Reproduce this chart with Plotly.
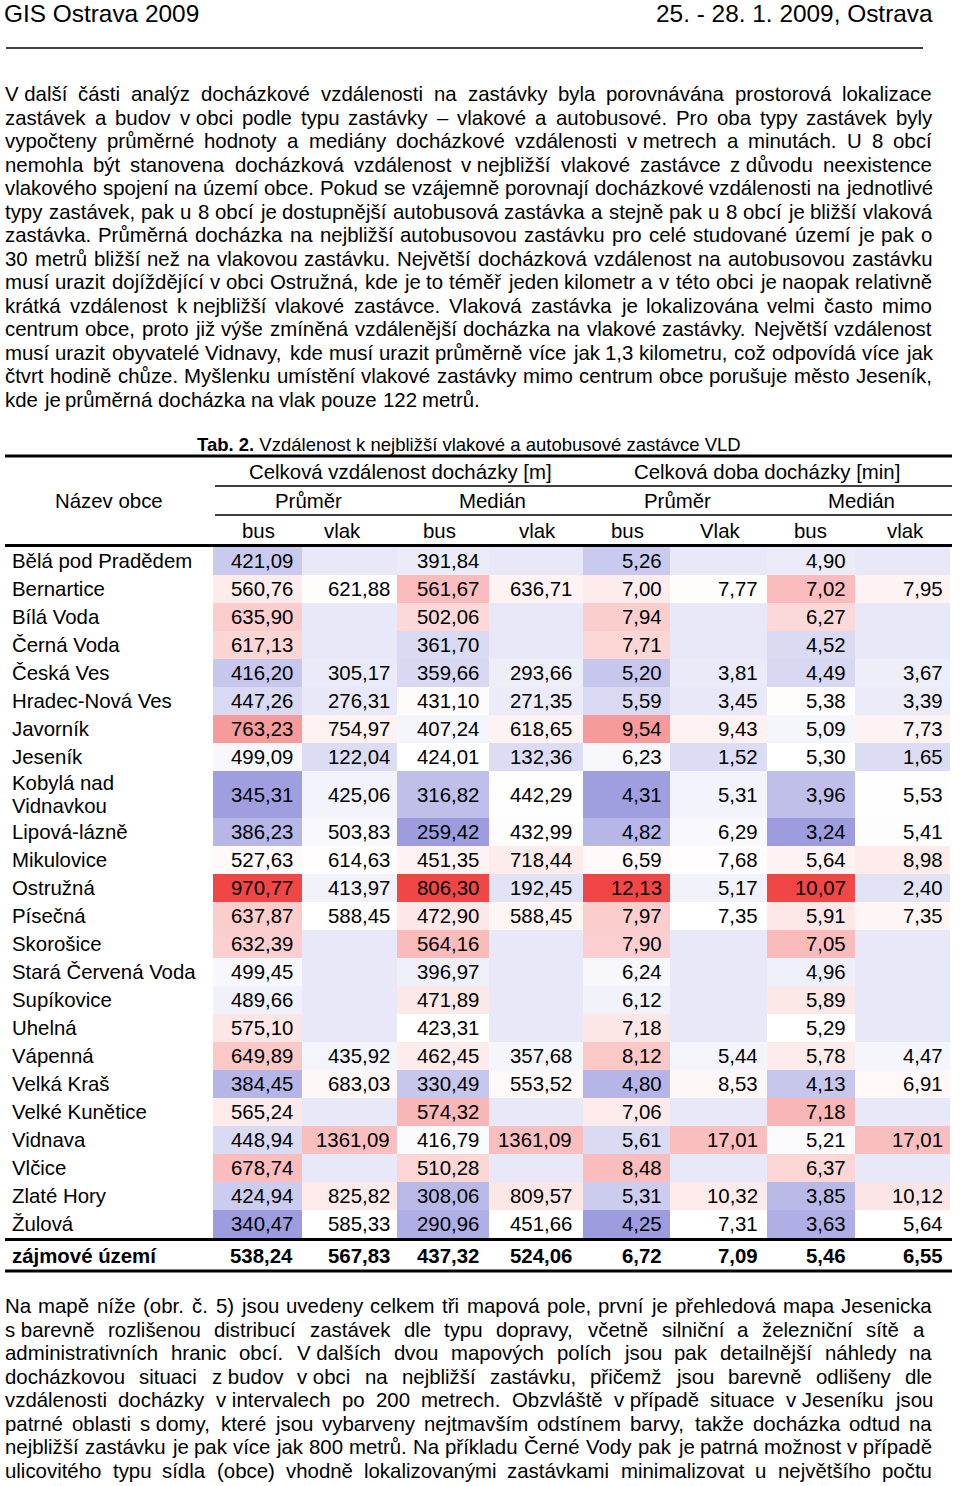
import unicodedata
import plotly.graph_objects as go

FONT = "Liberation Sans, Arial, Helvetica, sans-serif"
FS = 20.4

# ---------------- data ----------------
header_left = "GIS Ostrava 2009"
header_right = "25. - 28. 1. 2009, Ostrava"
caption = "<b>Tab. 2.</b> Vzdálenost k nejbližší vlakové a autobusové zastávce VLD"

group_labels = ["Celková vzdálenost docházky [m]", "Celková doba docházky [min]"]
stat_labels = ["Průměr", "Medián", "Průměr", "Medián"]
type_labels = ["bus", "vlak", "bus", "vlak", "bus", "Vlak", "bus", "vlak"]
name_header = "Název obce"

names = ["Bělá pod Pradědem", "Bernartice", "Bílá Voda", "Černá Voda", "Česká Ves",
         "Hradec-Nová Ves", "Javorník", "Jeseník", "Kobylá nad|Vidnavkou", "Lipová-lázně",
         "Mikulovice", "Ostružná", "Písečná", "Skorošice", "Stará Červená Voda",
         "Supíkovice", "Uhelná", "Vápenná", "Velká Kraš", "Velké Kunětice", "Vidnava",
         "Vlčice", "Zlaté Hory", "Žulová"]

dist_mean_bus = [421.09, 560.76, 635.90, 617.13, 416.20, 447.26, 763.23, 499.09, 345.31, 386.23,
                 527.63, 970.77, 637.87, 632.39, 499.45, 489.66, 575.10, 649.89, 384.45, 565.24,
                 448.94, 678.74, 424.94, 340.47]
dist_mean_vlak = [None, 621.88, None, None, 305.17, 276.31, 754.97, 122.04, 425.06, 503.83,
                  614.63, 413.97, 588.45, None, None, None, None, 435.92, 683.03, None,
                  1361.09, None, 825.82, 585.33]
dist_med_bus = [391.84, 561.67, 502.06, 361.70, 359.66, 431.10, 407.24, 424.01, 316.82, 259.42,
                451.35, 806.30, 472.90, 564.16, 396.97, 471.89, 423.31, 462.45, 330.49, 574.32,
                416.79, 510.28, 308.06, 290.96]
dist_med_vlak = [None, 636.71, None, None, 293.66, 271.35, 618.65, 132.36, 442.29, 432.99,
                 718.44, 192.45, 588.45, None, None, None, None, 357.68, 553.52, None,
                 1361.09, None, 809.57, 451.66]
time_mean_bus = [5.26, 7.00, 7.94, 7.71, 5.20, 5.59, 9.54, 6.23, 4.31, 4.82, 6.59, 12.13, 7.97,
                 7.90, 6.24, 6.12, 7.18, 8.12, 4.80, 7.06, 5.61, 8.48, 5.31, 4.25]
time_mean_vlak = [None, 7.77, None, None, 3.81, 3.45, 9.43, 1.52, 5.31, 6.29, 7.68, 5.17, 7.35,
                  None, None, None, None, 5.44, 8.53, None, 17.01, None, 10.32, 7.31]
time_med_bus = [4.90, 7.02, 6.27, 4.52, 4.49, 5.38, 5.09, 5.30, 3.96, 3.24, 5.64, 10.07, 5.91,
                7.05, 4.96, 5.89, 5.29, 5.78, 4.13, 7.18, 5.21, 6.37, 3.85, 3.63]
time_med_vlak = [None, 7.95, None, None, 3.67, 3.39, 7.73, 1.65, 5.53, 5.41, 8.98, 2.40, 7.35,
                 None, None, None, None, 4.47, 6.91, None, 17.01, None, 10.12, 5.64]

total_label = "zájmové území"
totals = [538.24, 567.83, 437.32, 524.06, 6.72, 7.09, 5.46, 6.55]

para1 = [
    "V~další části analýz docházkové vzdálenosti na zastávky byla porovnávána prostorová lokalizace",
    "zastávek a budov v~obci podle typu zastávky – vlakové a autobusové. Pro oba typy zastávek byly",
    "vypočteny průměrné hodnoty a mediány docházkové vzdálenosti v~metrech a minutách. U 8 obcí",
    "nemohla být stanovena docházková vzdálenost v~nejbližší vlakové zastávce z~důvodu neexistence",
    "vlakového spojení na území obce. Pokud se vzájemně porovnají docházkové vzdálenosti na jednotlivé",
    "typy zastávek, pak u 8 obcí je dostupnější autobusová zastávka a stejně pak u 8 obcí je bližší vlaková",
    "zastávka. Průměrná docházka na nejbližší autobusovou zastávku pro celé studované území je pak o",
    "30 metrů bližší než na vlakovou zastávku. Největší docházková vzdálenost na autobusovou zastávku",
    "musí urazit dojíždějící v obci Ostružná, kde je to téměř jeden kilometr a v této obci je naopak relativně",
    "krátká vzdálenost k~nejbližší vlakové zastávce. Vlaková zastávka je lokalizována velmi často mimo",
    "centrum obce, proto již výše zmíněná vzdálenější docházka na vlakové zastávky. Největší vzdálenost",
    "musí urazit obyvatelé Vidnavy, kde musí urazit průměrně více jak 1,3 kilometru, což odpovídá více jak",
    "čtvrt hodině chůze. Myšlenku umístění vlakové zastávky mimo centrum obce porušuje město Jeseník,",
    "kde je průměrná docházka na vlak pouze 122 metrů.",
]
para2 = [
    "Na mapě níže (obr. č. 5) jsou uvedeny celkem tři mapová pole, první je přehledová mapa Jesenicka",
    "s~barevně rozlišenou distribucí zastávek dle typu dopravy, včetně silniční a železniční sítě a",
    "administrativních hranic obcí. V~dalších dvou mapových polích jsou pak detailnější náhledy na",
    "docházkovou situaci z~budov v~obci na nejbližší zastávku, přičemž jsou barevně odlišeny dle",
    "vzdálenosti docházky v~intervalech po 200 metrech. Obzvláště v~případě situace v~Jeseníku jsou",
    "patrné oblasti s~domy, které jsou vybarveny nejtmavším odstínem barvy, takže docházka odtud na",
    "nejbližší zastávku je pak více jak 800 metrů. Na příkladu Černé Vody pak je patrná možnost v~případě",
    "ulicovitého typu sídla (obce) vhodně lokalizovanými zastávkami minimalizovat u největšího počtu",
]

columns = [dist_mean_bus, dist_mean_vlak, dist_med_bus, dist_med_vlak,
           time_mean_bus, time_mean_vlak, time_med_bus, time_med_vlak]
is_train = [False, True, False, True, False, True, False, True]

# ---------------- text metrics (Arial / Liberation Sans) ----------------
AW = {' ': 278, '~': 278, ',': 278, '.': 278, '-': 333, '–': 556, '(': 333, ')': 333,
      '[': 278, ']': 278, ':': 278, ';': 278}
for ch in "0123456789":
    AW[ch] = 556
AW.update(dict(zip("abcdefghijklmnopqrstuvwxyz",
                   [556, 556, 500, 556, 556, 278, 556, 556, 222, 222, 500, 222, 833, 556, 556,
                    556, 556, 333, 500, 278, 556, 500, 722, 500, 500, 500])))
AW.update(dict(zip("ABCDEFGHIJKLMNOPQRSTUVWXYZ",
                   [667, 667, 722, 722, 667, 611, 778, 722, 278, 500, 667, 556, 833, 722, 778,
                    667, 778, 722, 667, 611, 722, 667, 944, 667, 667, 611])))


def cw(ch):
    if ch == 'í':
        return 278
    if ch in AW:
        return AW[ch]
    base = unicodedata.normalize('NFD', ch)[0]
    return AW.get(base, 556)


def tw(s, fs=FS):
    return sum(cw(c) for c in s) * fs / 1000.0


# ---------------- figure helpers ----------------
ann = []
shapes = []


def txt(x, y, text, size=FS, xanchor='left'):
    ann.append(dict(x=x, y=y, xref='x', yref='y', text=text, showarrow=False,
                    xanchor=xanchor, yanchor='middle', borderpad=0, borderwidth=0,
                    font=dict(family=FONT, size=size, color='black')))


def hline(y, x0, x1, w):
    shapes.append(dict(type='line', xref='x', yref='y', x0=x0, x1=x1, y0=y, y1=y,
                       line=dict(color='black', width=w)))


def paragraph(lines, y0, dy, left=5, right=932, justify_last=False, rights=None):
    rights = rights or {}
    for i, line in enumerate(lines):
        y = y0 + i * dy
        words = line.split(' ')
        widths = [tw(w) for w in words]
        r = rights.get(i, right)
        if (i < len(lines) - 1 or justify_last) and len(words) > 1:
            gap = (r - left - sum(widths)) / (len(words) - 1)
        else:
            gap = tw(' ')
        x = left
        for w, wd in zip(words, widths):
            txt(x, y, w.replace('~', '\u00a0'))
            x += wd + gap


def fmt(v):
    return "" if v is None else f"{v:.2f}".replace('.', ',')


# ---------------- page header & paragraphs ----------------
txt(4, 13, header_left, size=24.4)
txt(933, 13, header_right, size=24.4, xanchor='right')
hline(48, 6, 923, 1.6)

paragraph(para1, 94, 23.54)
paragraph(para2, 1306, 23.57, justify_last=True, rights={1: 924})

# ---------------- table ----------------
col_edges = [213, 302, 397, 489, 583, 670, 767, 855, 950]
num_right = [293, 390, 479, 572, 662, 758, 846, 943]
type_centers = [258, 342, 439, 537, 627, 720, 810, 905]
row_h = [47 if '|' in n else 28 for n in names]
row_edges = [547]
for h in row_h:
    row_edges.append(row_edges[-1] + h)
row_centers = [(a + b) / 2 for a, b in zip(row_edges[:-1], row_edges[1:])]

EMPTY_Z = 0.385
TRAIN_CONTRAST = 0.35


def norm(col, k=1.0):
    vals = sorted(v for v in col if v is not None)
    n = len(vals)
    med = vals[n // 2] if n % 2 else (vals[n // 2 - 1] + vals[n // 2]) / 2
    lo, hi = vals[0], vals[-1]
    out = []
    for v in col:
        if v is None:
            out.append(EMPTY_Z)
            continue
        if v <= med:
            t = 0.5 * (v - lo) / (med - lo)
        else:
            t = 0.5 + 0.5 * (v - med) / (hi - med)
        out.append(0.5 + (t - 0.5) * k)
    return out


zcols = [norm(c, TRAIN_CONTRAST if tr else 1.0) for c, tr in zip(columns, is_train)]
z = [[zcols[j][i] for j in range(len(columns))] for i in range(len(names))]

fig = go.Figure(go.Heatmap(
    z=z, x=col_edges, y=row_edges, zmin=0, zmax=1, zsmooth=False, showscale=False,
    hoverinfo='skip',
    colorscale=[[0, 'rgb(156,156,223)'], [0.5, 'rgb(255,255,255)'], [1, 'rgb(241,70,70)']]))

txt(197, 444, caption, size=18.5)
hline(456, 5, 952, 3)
txt(400, 472, group_labels[0], xanchor='center')
txt(767, 472, group_labels[1], xanchor='center')
hline(486, 215, 952, 1.5)
for c, lab in zip([308, 492, 677, 861], stat_labels):
    txt(c, 501, lab, xanchor='center')
txt(109, 501, name_header, xanchor='center')
hline(515, 215, 952, 1.5)
for c, lab in zip(type_centers, type_labels):
    txt(c, 531, lab, xanchor='center')
hline(545.5, 5, 952, 3)

for i, name in enumerate(names):
    yc = row_centers[i]
    if '|' in name:
        a, b = name.split('|')
        txt(12, yc - 11.5, a)
        txt(12, yc + 11.5, b)
    else:
        txt(12, yc, name)
    for j, col in enumerate(columns):
        if col[i] is not None:
            txt(num_right[j], yc, fmt(col[i]), xanchor='right')

hline(1239.5, 5, 952, 3)
ytot = 1256
txt(12, ytot, "<b>" + total_label + "</b>")
for j, v in enumerate(totals):
    txt(num_right[j], ytot, "<b>" + fmt(v) + "</b>", xanchor='right')
hline(1271, 5, 952, 3)

fig.update_layout(
    width=960, height=1486, autosize=False,
    margin=dict(l=0, r=0, t=0, b=0, pad=0),
    paper_bgcolor='white', plot_bgcolor='white',
    xaxis=dict(range=[0, 960], visible=False, fixedrange=True),
    yaxis=dict(range=[1486, 0], visible=False, fixedrange=True),
    annotations=ann, shapes=shapes, showlegend=False,
)

fig.write_html("out.html", config={'displayModeBar': False},
               post_script="document.body.style.margin='0';document.body.style.overflow='hidden';")
